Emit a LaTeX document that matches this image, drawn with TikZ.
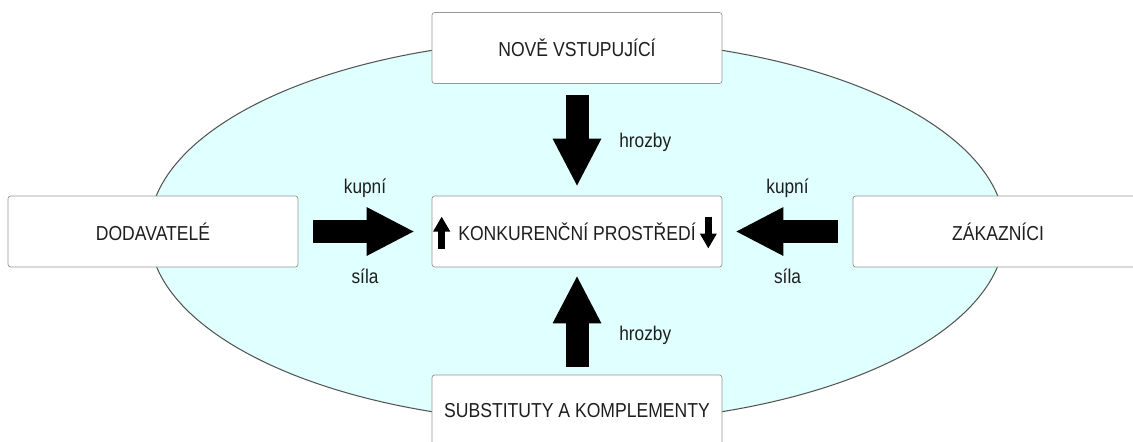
\documentclass[tikz,border=0pt]{standalone}
\usepackage{fontspec}
\setmainfont[FakeStretch=0.87]{Liberation Sans}
\usetikzlibrary{arrows.meta}

\definecolor{oblast}{RGB}{224,255,255}
\definecolor{okraj}{RGB}{85,85,85}
\definecolor{ramecek}{RGB}{150,150,150}
\definecolor{pismo}{RGB}{30,30,30}

\tikzset{
  blok/.style={draw=ramecek, fill=white, rounded corners=1.5pt, minimum width=5.8cm,
    minimum height=1.42cm, text=pismo, font=\fontsize{11.5}{13}\selectfont},
  sipka/.style={line width=0.46cm, -{Triangle[length=0.96cm,width=0.9cm]}},
  malasipka/.style={line width=0.13cm, -{Triangle[length=0.3cm,width=0.32cm]}},
  popis/.style={text=pismo, font=\fontsize{11.3}{13}\selectfont},
}

\begin{document}
\begin{tikzpicture}[x=0.02cm,y=-0.02cm]
\useasboundingbox (0,0) rectangle (1133,441);

%elipsa
\draw[fill=oblast, draw=okraj, line width=0.6pt] (577,231) ellipse [x radius=8.56cm, y radius=3.84cm];

%bloky
\node[blok] (nove) at (577,48) {NOVĚ VSTUPUJÍCÍ};
\node[blok] (konk) at (577,231.5) {KONKURENČNÍ PROSTŘEDÍ};
\node[blok] (dod) at (153,231.5) {DODAVATELÉ};
\node[blok] (zak) at (998,231.5) {ZÁKAZNÍCI};
\node[blok] (sub) at (577,410.5) {SUBSTITUTY A KOMPLEMENTY};

%sipky
\draw[sipka, shorten <=0.23cm, shorten >=0.18cm] (nove) -- (konk)
  node[popis, midway, anchor=west, xshift=0.5cm, yshift=-0.06cm] {hrozby};
\draw[sipka, shorten <=0.16cm, shorten >=0.16cm] (sub) -- (konk)
  node[popis, midway, anchor=west, xshift=0.5cm, yshift=-0.28cm] {hrozby};
\draw[sipka, shorten <=0.3cm, shorten >=0.34cm] (dod) -- (konk)
  node[popis, midway, yshift=0.86cm] {kupní}
  node[popis, midway, yshift=-0.9cm] {síla};
\draw[sipka, shorten <=0.3cm, shorten >=0.26cm] (zak) -- (konk)
  node[popis, midway, yshift=0.86cm] {kupní}
  node[popis, midway, yshift=-0.9cm] {síla};

%male sipky v bloku
\draw[malasipka] ([shift={(10,17)}]konk.west) -- ([shift={(10,-15)}]konk.west);
\draw[malasipka] ([shift={(-14,-15)}]konk.east) -- ([shift={(-14,17)}]konk.east);
\end{tikzpicture}
\end{document}
